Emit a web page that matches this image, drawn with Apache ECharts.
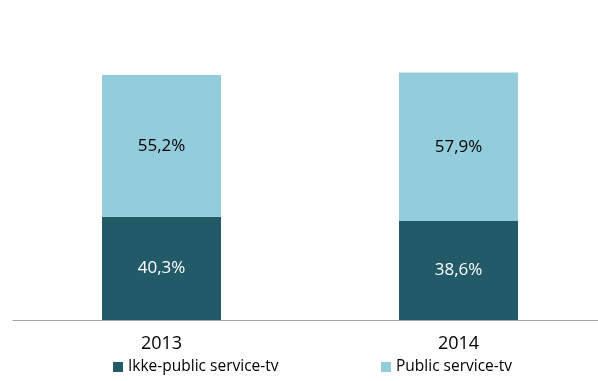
<!DOCTYPE html>
<html>
<head>
<meta charset="utf-8">
<script src="https://cdn.jsdelivr.net/npm/echarts@6/dist/echarts.min.js"></script>
<style>
  html, body { margin: 0; padding: 0; background: #fff; overflow: hidden; }
  #chart { width: 607px; height: 381px; }
</style>
</head>
<body>
<div id="chart"></div>
<script>
// Share of viewing, stacked per year
const years = ['2013', '2014'];
const ikkePublic = [40.3, 38.6];
const publicService = [55.2, 57.9];
const seriesNames = ['Ikke-public service-tv', 'Public service-tv'];

const fmt = v => v.toFixed(1).replace('.', ',') + '%';
const font = '"Open Sans", Calibri, sans-serif';

const legendBase = {
  top: 359,
  padding: 0,
  itemWidth: 10,
  itemHeight: 10,
  icon: 'rect',
  textStyle: { fontFamily: font, fontSize: 15.5, lineHeight: 16, color: '#000' }
};

const chart = echarts.init(document.getElementById('chart'), null, { renderer: 'canvas' });
chart.setOption({
  animation: false,
  grid: { left: 13, right: 0, top: 63.5, bottom: 61 },
  legend: [
    Object.assign({ data: [seriesNames[0]], left: 113 }, legendBase),
    Object.assign({ data: [seriesNames[1]], left: 381 }, legendBase)
  ],
  xAxis: {
    type: 'category',
    data: years,
    axisLine: { lineStyle: { color: '#a6a6a6', width: 1 } },
    axisTick: { show: false },
    axisLabel: { fontFamily: font, fontSize: 18, lineHeight: 18, color: '#000', margin: 15 }
  },
  yAxis: {
    type: 'value',
    min: 0,
    max: 100,
    show: false
  },
  series: [
    {
      name: seriesNames[0],
      type: 'bar',
      stack: 'total',
      barWidth: 119,
      data: ikkePublic,
      itemStyle: { color: '#235a68' },
      label: { show: true, position: 'inside', formatter: p => fmt(p.value), fontFamily: font, fontSize: 17, color: '#fff' }
    },
    {
      name: seriesNames[1],
      type: 'bar',
      stack: 'total',
      barWidth: 119,
      data: publicService,
      itemStyle: { color: '#93cddb' },
      label: { show: true, position: 'inside', formatter: p => fmt(p.value), fontFamily: font, fontSize: 17, color: '#000' }
    }
  ]
});
</script>
</body>
</html>
